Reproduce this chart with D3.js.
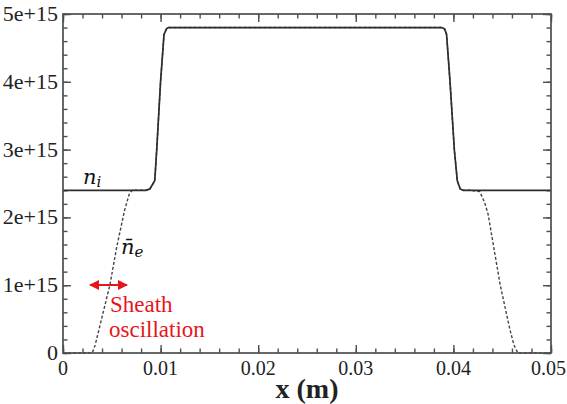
<!DOCTYPE html>
<html>
<head>
<meta charset="utf-8">
<script src="https://cdn.jsdelivr.net/npm/d3@7"></script>
<style>
  html, body { margin: 0; padding: 0; background: #fff; }
  svg { display: block; }
  .serif { font-family: "Liberation Serif", "Times New Roman", Times, serif; }
  .math { font-family: "DejaVu Serif", serif; font-style: italic; }
</style>
</head>
<body>
<svg id="chart" width="567" height="404"></svg>
<script>
// Ion density n_i (solid)
const xIon = [0, 0.0085, 0.0089, 0.0094, 0.0096, 0.0100, 0.01035, 0.0106, 0.0108,
              0.0388, 0.0391, 0.0393, 0.03965, 0.0401, 0.0404, 0.0407, 0.0410, 0.05];
const nIon = [2.4e15, 2.4e15, 2.42e15, 2.54e15, 2.99e15, 4.01e15, 4.7e15, 4.78e15, 4.8e15,
              4.8e15, 4.78e15, 4.7e15, 4.01e15, 2.99e15, 2.54e15, 2.42e15, 2.4e15, 2.4e15];

// Time-averaged electron density n̄_e (dashed)
const xElec = [0, 0.0030, 0.0033, 0.0048, 0.0055, 0.0063, 0.0068, 0.0071,
               0.0085, 0.0089, 0.0094, 0.0096, 0.0100, 0.01035, 0.0106, 0.0108,
               0.0388, 0.0391, 0.0393, 0.03965, 0.0401, 0.0404, 0.0407, 0.0410,
               0.0418, 0.0427, 0.0432, 0.04355, 0.0448, 0.0458, 0.0462, 0.0466, 0.05];
const nElec = [0, 0, 0.12e15, 1.0e15, 1.56e15, 2.1e15, 2.35e15, 2.4e15,
               2.4e15, 2.42e15, 2.54e15, 2.99e15, 4.01e15, 4.7e15, 4.78e15, 4.8e15,
               4.8e15, 4.78e15, 4.7e15, 4.01e15, 2.99e15, 2.54e15, 2.42e15, 2.4e15,
               2.4e15, 2.38e15, 2.22e15, 2.05e15, 1.0e15, 0.34e15, 0.12e15, 0, 0];

const xTicks = [0, 0.01, 0.02, 0.03, 0.04, 0.05];
const xTickLabels = ["0", "0.01", "0.02", "0.03", "0.04", "0.05"];
const yTicks = [0, 1e15, 2e15, 3e15, 4e15, 5e15];
const yTickLabels = ["0", "1e+15", "2e+15", "3e+15", "4e+15", "5e+15"];
const xMinor = d3.range(0, 0.0501, 0.002);
const yMinor = d3.range(0, 5.01e15, 0.2e15);

const svg = d3.select("#chart");
const plot = { left: 63, right: 551, top: 14, bottom: 353 };

const x = d3.scaleLinear().domain([0, 0.05]).range([plot.left, plot.right]);
const y = d3.scaleLinear().domain([0, 5e15]).range([plot.bottom, plot.top]);

const axisColor = "#4a4f4f";
const textColor = "#222";

// Inward ticks on all four sides
function tickAxis(axisFn, scale, values, size, transform) {
  const g = svg.append("g").attr("transform", transform)
    .call(axisFn(scale).tickValues(values).tickSize(-size).tickSizeOuter(0).tickFormat(""));
  g.select(".domain").remove();
  g.selectAll(".tick line").attr("stroke", axisColor).attr("stroke-width", 1.4);
  return g;
}
tickAxis(d3.axisBottom, x, xMinor, 4.5, `translate(0,${plot.bottom})`);
tickAxis(d3.axisBottom, x, xTicks, 8, `translate(0,${plot.bottom})`);
tickAxis(d3.axisTop, x, xMinor, 4.5, `translate(0,${plot.top})`);
tickAxis(d3.axisTop, x, xTicks, 8, `translate(0,${plot.top})`);
tickAxis(d3.axisLeft, y, yMinor, 4.5, `translate(${plot.left},0)`);
tickAxis(d3.axisLeft, y, yTicks, 8, `translate(${plot.left},0)`);
tickAxis(d3.axisRight, y, yMinor, 4.5, `translate(${plot.right},0)`);
tickAxis(d3.axisRight, y, yTicks, 8, `translate(${plot.right},0)`);

// Tick labels (the last one is kept inside the page edge)
const lastX = xTicks.length - 1;
svg.append("g").selectAll("text").data(xTicks).join("text")
  .attr("class", "serif")
  .attr("x", (d, i) => i === lastX ? 566 : x(d)).attr("y", 375)
  .attr("text-anchor", (d, i) => i === lastX ? "end" : "middle")
  .attr("font-size", 20).attr("fill", textColor)
  .text((d, i) => xTickLabels[i]);

svg.append("g").selectAll("text").data(yTicks).join("text")
  .attr("class", "serif")
  .attr("x", plot.left - 5).attr("y", d => y(d) + 7)
  .attr("text-anchor", "end")
  .attr("font-size", 22).attr("fill", textColor)
  .text((d, i) => yTickLabels[i]);

// Axis title
svg.append("text")
  .attr("class", "serif")
  .attr("x", (plot.left + plot.right) / 2).attr("y", 398)
  .attr("text-anchor", "middle")
  .attr("font-size", 28).attr("font-weight", "bold").attr("fill", textColor)
  .text("x (m)");

// Curves
const line = d3.line().x(d => x(d[0])).y(d => y(d[1]));

svg.append("path")
  .datum(d3.zip(xElec, nElec))
  .attr("d", line)
  .attr("fill", "none").attr("stroke", "#444").attr("stroke-width", 1.4)
  .attr("stroke-dasharray", "3,2");

svg.append("path")
  .datum(d3.zip(xIon, nIon))
  .attr("d", line)
  .attr("fill", "none").attr("stroke", "#2a2f2f").attr("stroke-width", 1.7);

// Frame
svg.append("rect")
  .attr("x", plot.left).attr("y", plot.top)
  .attr("width", plot.right - plot.left).attr("height", plot.bottom - plot.top)
  .attr("fill", "none").attr("stroke", axisColor).attr("stroke-width", 1.7);

// Curve labels
const ni = svg.append("text").attr("class", "math").attr("x", 83).attr("y", 184)
  .attr("font-size", 21).attr("fill", "#111");
ni.append("tspan").text("n");
ni.append("tspan").attr("font-size", 15).attr("dy", 3).text("i");

const ne = svg.append("text").attr("class", "math").attr("x", 121).attr("y", 254)
  .attr("font-size", 21).attr("fill", "#111");
ne.append("tspan").text("n\u0304");
ne.append("tspan").attr("font-size", 15).attr("dy", 3).text("e");

// Sheath oscillation annotation
const red = "#e8141c";
const defs = svg.append("defs");
["start", "end"].forEach(k => {
  defs.append("marker")
    .attr("id", "arrow-" + k)
    .attr("viewBox", "0 0 10 10").attr("refX", 9).attr("refY", 5)
    .attr("markerWidth", 10).attr("markerHeight", 10)
    .attr("markerUnits", "userSpaceOnUse")
    .attr("orient", k === "start" ? "auto-start-reverse" : "auto")
    .append("path").attr("d", "M0,0 L10,5 L0,10 Z").attr("fill", red);
});
svg.append("line")
  .attr("x1", 90).attr("x2", 127).attr("y1", 285).attr("y2", 285)
  .attr("stroke", red).attr("stroke-width", 2)
  .attr("marker-start", "url(#arrow-start)").attr("marker-end", "url(#arrow-end)");

svg.append("text").attr("class", "serif").attr("x", 110).attr("y", 312)
  .attr("font-size", 23).attr("fill", red)
  .text("Sheath");
svg.append("text").attr("class", "serif").attr("x", 109).attr("y", 337)
  .attr("font-size", 23).attr("fill", red)
  .text("oscillation");
</script>
</body>
</html>
